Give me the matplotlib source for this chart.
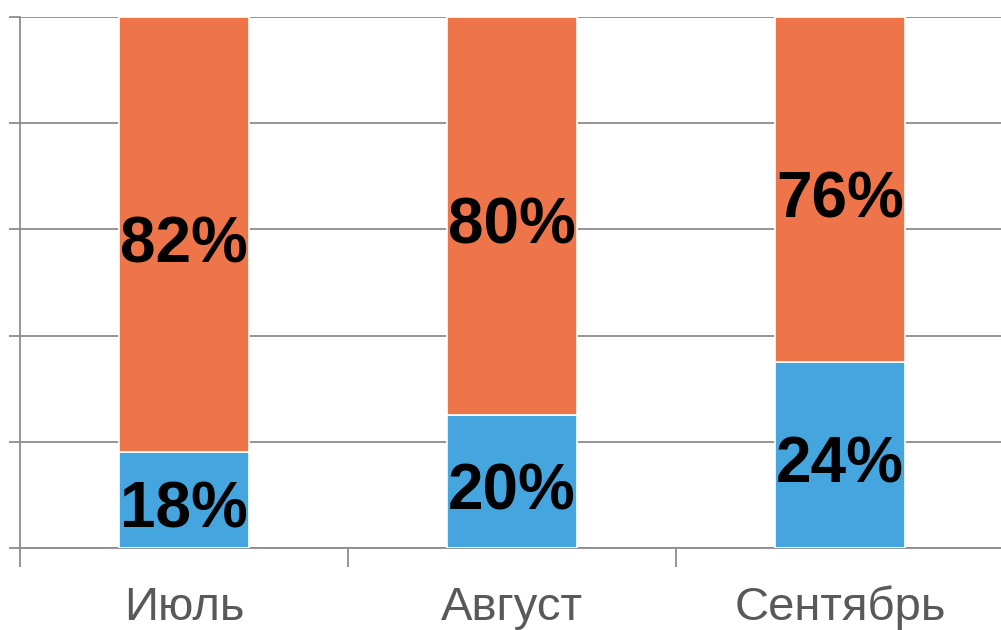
import matplotlib.pyplot as plt
import numpy as np

months = ['Июль', 'Август', 'Сентябрь']
blue_vals = [18, 25, 35]
orange_vals = [82, 75, 65]
blue_labels = ['18%', '20%', '24%']
orange_labels = ['82%', '80%', '76%']

plt.rcParams['font.family'] = ['Liberation Sans', 'DejaVu Sans']

fig = plt.figure(figsize=(10.01, 6.30), dpi=100)
ax = fig.add_axes([20 / 1001, 82 / 630, 984 / 1001, 531 / 630])

x = np.arange(len(months))
grey = '#8c8c8c'
ax.bar(x, blue_vals, width=0.395, color='#45a6df', edgecolor='white', linewidth=1.2, zorder=3)
ax.bar(x, orange_vals, bottom=blue_vals, width=0.395, color='#ee7549', edgecolor='white', linewidth=1.2, zorder=3)

# labels sit a touch below the middle of each segment
for i in range(len(months)):
    ax.annotate(blue_labels[i], (x[i], blue_vals[i] / 2), xytext=(0, -3), textcoords='offset points',
                ha='center', va='center_baseline', fontsize=46, fontweight='bold', color='black', zorder=4)
    ax.annotate(orange_labels[i], (x[i], blue_vals[i] + orange_vals[i] / 2), xytext=(0, -3),
                textcoords='offset points', ha='center', va='center_baseline',
                fontsize=46, fontweight='bold', color='black', zorder=4)

ax.set_xlim(-0.5, 2.5)
ax.set_ylim(0, 100)
ax.set_yticks(np.arange(0, 101, 20))
ax.set_yticklabels([])
ax.yaxis.grid(True, color=grey, linewidth=1.3, zorder=0)
ax.tick_params(axis='y', length=8, width=1.3, color=grey)

ax.set_xticks(x)
ax.set_xticklabels(months, fontsize=34, color='#595959')
ax.tick_params(axis='x', which='major', length=0, pad=27)
ax.set_xticks([-0.5, 0.5, 1.5], minor=True)
ax.tick_params(axis='x', which='minor', length=14, width=1.3, color=grey)

for s in ['top', 'right']:
    ax.spines[s].set_visible(False)
for s in ['left', 'bottom']:
    ax.spines[s].set_color(grey)
    ax.spines[s].set_linewidth(1.3)

fig.savefig('out.png', dpi=100)
